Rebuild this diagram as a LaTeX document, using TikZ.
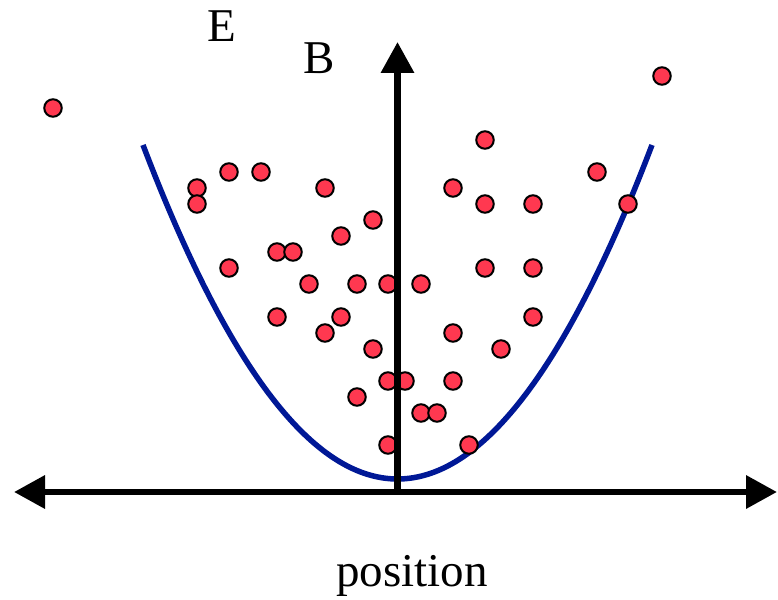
\documentclass[tikz,border=0pt]{standalone}
\usepackage{fontspec}
\setmainfont{Liberation Serif}
\usetikzlibrary{arrows.meta}
\definecolor{curveblue}{RGB}{0,24,150}
\definecolor{dotred}{RGB}{255,56,80}
\tikzset{
  axisline/.style={line width=6.5pt,-{Triangle[length=31pt 0,width=32pt 0]}},
  curveline/.style={line width=5.5pt,curveblue},
  dotnode/.style={circle,draw=black,line width=2pt,fill=dotred,minimum size=17.5pt,inner sep=0pt},
  lbl/.style={font=\fontsize{47}{56}\selectfont,inner sep=0pt,anchor=base}
}
\begin{document}
\begin{tikzpicture}[x=1pt,y=-1pt]
\path[fill=white,use as bounding box] (0,0) rectangle (778,599);
% parabola
\draw[curveline] plot[domain=143:652,samples=120,smooth] (\x,{479-51.57*((\x-397.5)/100)^2});
% dots
\foreach \px/\py [count=\i] in {53/108,662/76,485/140,229/172,261/172,597/172,197/188,325/188,453/188,197/204,485/204,533/204,628/204,373/220,341/236,277/252,293/252,229/268,485/268,533/268,309/284,357/284,388/284,421/284,277/317,341/317,533/317,325/333,453/333,373/349,501/349,388/381,405/381,453/381,357/397,421/413,437/413,388/445,469/445}
  \node[dotnode] (d\i) at (\px,\py) {};
% axes
\coordinate (origin) at (397.5,492);
\coordinate (ytip) at (397.5,42);
\coordinate (xleft) at (14,492);
\coordinate (xright) at (777,492);
\draw[axisline] (origin) -- (ytip);
\draw[axisline] (origin) -- (xleft);
\draw[axisline] (origin) -- (xright);
% labels
\node[lbl] (E) at (222,42) {E};
\node[lbl] (B) at (319,74) {B};
\node[lbl] (pos) at (412,586) {position};
\end{tikzpicture}
\end{document}
